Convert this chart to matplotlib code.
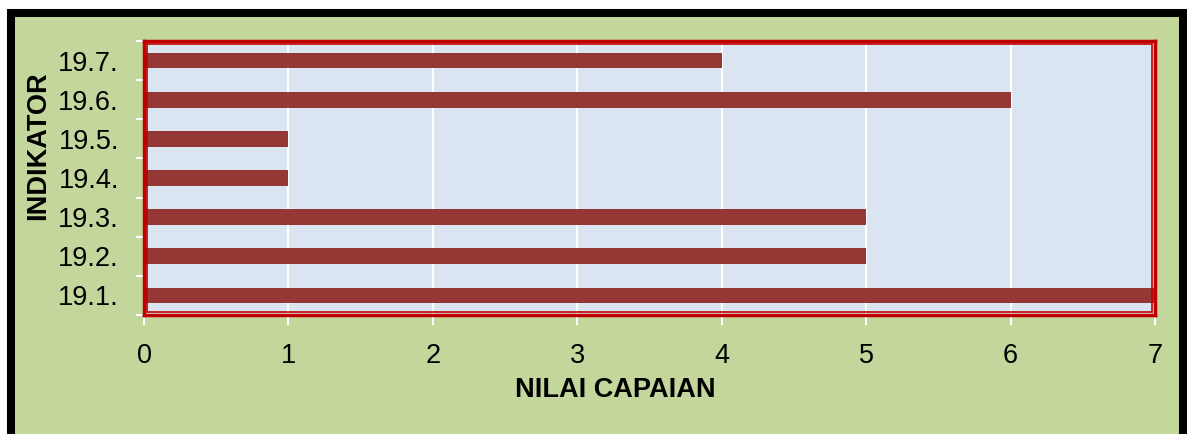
import matplotlib
matplotlib.use('Agg')
import matplotlib.pyplot as plt
from matplotlib.patches import Rectangle

# Data
indikator = ['19.1.', '19.2.', '19.3.', '19.4.', '19.5.', '19.6.', '19.7.']
nilai = [7, 5, 5, 1, 1, 6, 4]

# Colours / formatting
bg_green = '#C3D69B'
plot_bg = '#DBE5F1'
bar_color = '#953735'
border_red = '#C00000'
tick_size = 19.5
label_size = 19.5

plt.rcParams['font.family'] = ['Liberation Sans', 'DejaVu Sans']

W, H = 1187, 434
fig = plt.figure(figsize=(W / 100, H / 100), dpi=100)
fig.patch.set_facecolor('white')

# green panel with black frame
frame = Rectangle((11 / W, -0.05), (1183 - 11) / W, (H - 13) / H + 0.05,
                  transform=fig.transFigure, facecolor=bg_green,
                  edgecolor='black', linewidth=5.8, zorder=-1)
fig.patches.append(frame)

ax_l, ax_r, ax_t, ax_b = 144, 1155, 41, 315
ax = fig.add_axes([ax_l / W, 1 - ax_b / H, (ax_r - ax_l) / W, (ax_b - ax_t) / H])
ax.set_facecolor(plot_bg)

y = range(len(indikator))
ax.barh(y, nilai, height=0.4, color=bar_color, zorder=3)

ax.set_xlim(0, 7)
ax.set_ylim(-0.5, len(indikator) - 0.5)
ax.set_xticks(range(0, 8))
ax.set_yticks(list(y))
ax.set_yticklabels(indikator)
ax.set_yticks([i - 0.5 for i in range(len(indikator) + 1)], minor=True)

ax.grid(True, axis='x', color='white', linewidth=1.5, zorder=1)
ax.tick_params(axis='x', which='both', length=7, width=1.5, color='white',
               labelsize=tick_size, pad=13)
ax.tick_params(axis='y', which='major', length=0, labelsize=tick_size, pad=18)
ax.tick_params(axis='y', which='minor', length=6, width=1.5, color='white')

for s in ax.spines.values():
    s.set_color(border_red)
    s.set_linewidth(2.5)
    s.set_zorder(4)

# inner thin red line of the double border
ax.add_patch(Rectangle((0.003, 0.012), 0.994, 0.976, transform=ax.transAxes,
                       fill=False, edgecolor=border_red, linewidth=1.2, zorder=4))

ax.set_xlabel('NILAI CAPAIAN', fontsize=label_size, fontweight='bold', va='center')
ax.set_ylabel('INDIKATOR', fontsize=label_size, fontweight='bold', va='center', ha='center')
ax.xaxis.set_label_coords((615 - ax_l) / (ax_r - ax_l), (ax_b - 390) / (ax_b - ax_t))
ax.yaxis.set_label_coords((38 - ax_l) / (ax_r - ax_l), (ax_b - 146) / (ax_b - ax_t))

fig.savefig('out.png', dpi=100, facecolor=fig.get_facecolor())
